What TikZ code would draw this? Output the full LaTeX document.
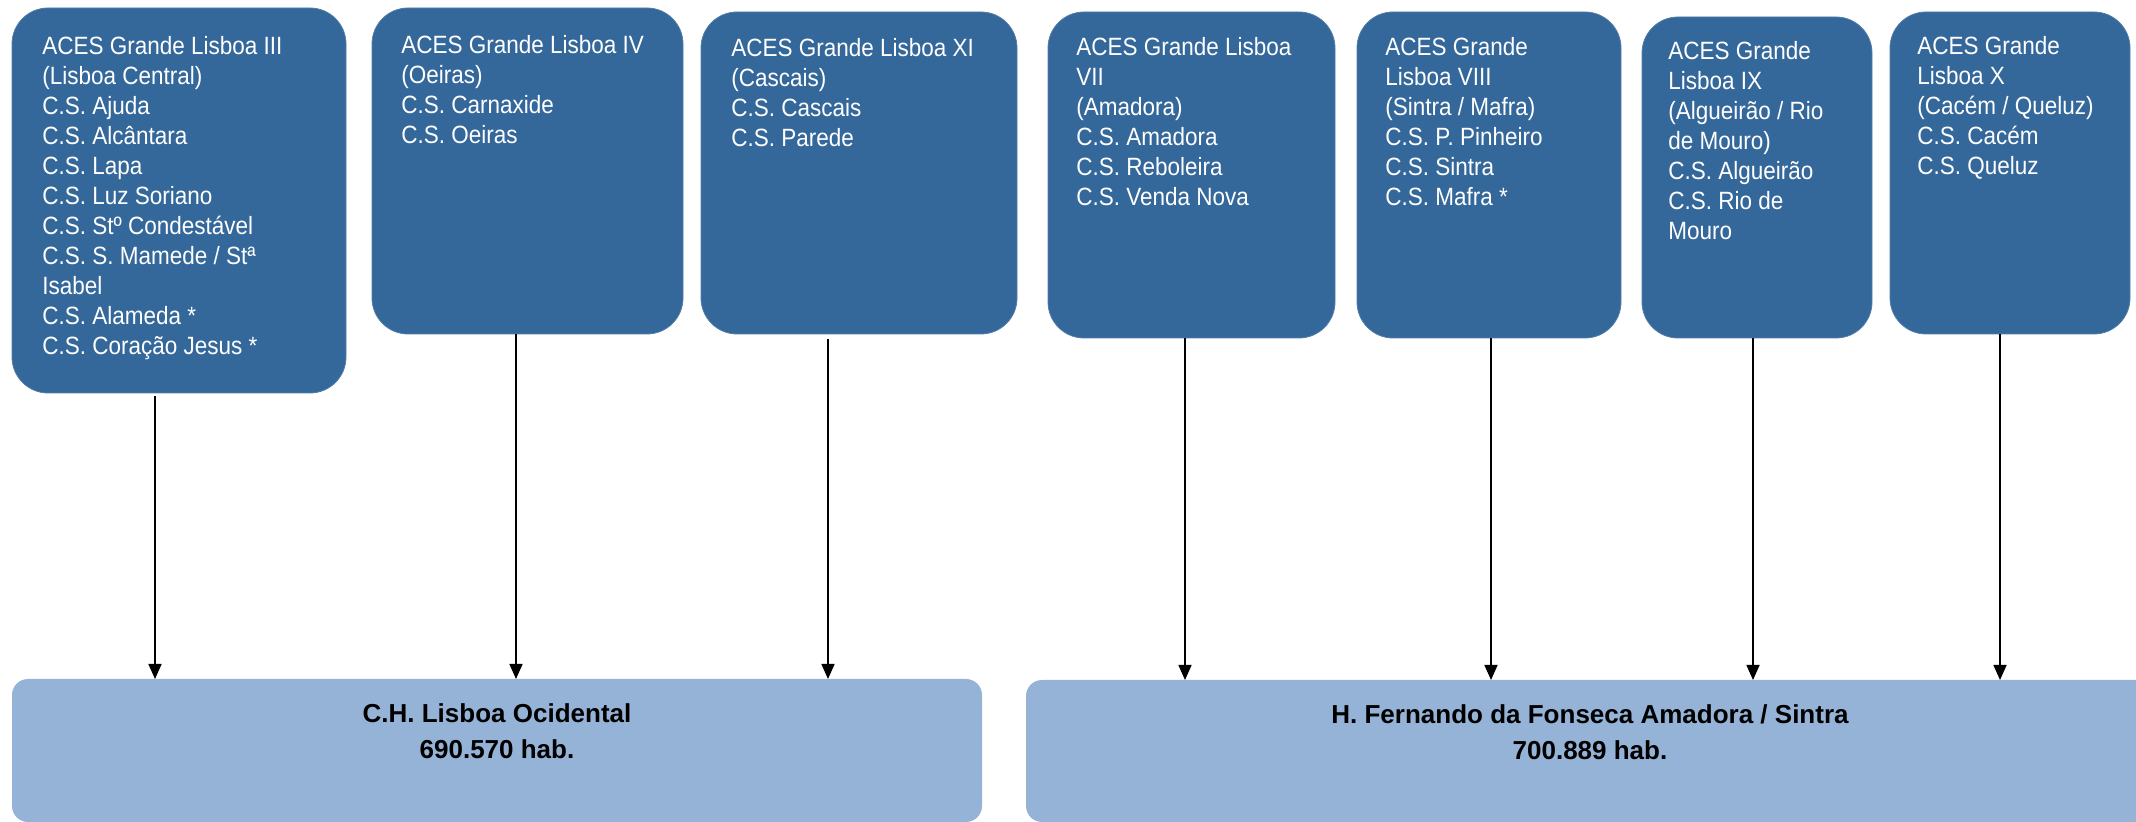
\documentclass[tikz,border=0pt]{standalone}
\usepackage{fontspec}
\setmainfont{Liberation Sans}
\newfontfamily\acesfont{Liberation Sans}[FakeStretch=0.9]
\usepackage{tikz}
\usetikzlibrary{arrows.meta}
\definecolor{acesblue}{HTML}{34679A}
\definecolor{hospblue}{HTML}{95B3D7}
\tikzset{
    aces/.style={fill=acesblue, draw=acesblue!85!white, rounded corners=18pt, anchor=north west, inner sep=0pt, outer sep=0pt},
    acestext/.style={anchor=north west, inner sep=0pt, align=left, text=white, font=\acesfont\fontsize{12.5}{15}\selectfont},
    hosp/.style={fill=hospblue, rounded corners=8pt, anchor=north west, inner sep=0pt, outer sep=0pt},
    hosptext/.style={anchor=north, inner sep=0pt, align=center, font=\bfseries\fontsize{13}{18}\selectfont},
    arr/.style={-{Triangle[length=7.5pt,width=6.5pt]}, line width=0.75pt}
}
\begin{document}
\begin{tikzpicture}[x=0.5pt, y=-0.5pt]
    \clip (0,0) rectangle (2136,822);

    % ACES boxes
    \node[aces, minimum width=167pt, minimum height=192.5pt] (g3) at (12,8) {};
    \node[acestext] (g3t) at ([shift={(30,28)}]g3.north west) {ACES Grande Lisboa III\\(Lisboa Central)\\C.S. Ajuda\\C.S. Alcântara\\C.S. Lapa\\C.S. Luz Soriano\\C.S. Stº Condestável\\C.S. S. Mamede / Stª\\Isabel\\C.S. Alameda *\\C.S. Coração Jesus *};

    \node[aces, minimum width=155.5pt, minimum height=163pt] (g4) at (372,8) {};
    \node[acestext] (g4t) at ([shift={(29,27)}]g4.north west) {ACES Grande Lisboa IV\\(Oeiras)\\C.S. Carnaxide\\C.S. Oeiras};

    \node[aces, minimum width=158pt, minimum height=161pt] (g11) at (701,12) {};
    \node[acestext] (g11t) at ([shift={(30,26)}]g11.north west) {ACES Grande Lisboa XI\\(Cascais)\\C.S. Cascais\\C.S. Parede};

    \node[aces, minimum width=143.5pt, minimum height=163pt] (g7) at (1048,12) {};
    \node[acestext] (g7t) at ([shift={(28,25)}]g7.north west) {ACES Grande Lisboa\\VII\\(Amadora)\\C.S. Amadora\\C.S. Reboleira\\C.S. Venda Nova};

    \node[aces, minimum width=132pt, minimum height=163pt] (g8) at (1357,12) {};
    \node[acestext] (g8t) at ([shift={(28,25)}]g8.north west) {ACES Grande\\Lisboa VIII\\(Sintra / Mafra)\\C.S. P. Pinheiro\\C.S. Sintra\\C.S. Mafra *};

    \node[aces, minimum width=115pt, minimum height=160.5pt] (g9) at (1642,17) {};
    \node[acestext] (g9t) at ([shift={(26,24)}]g9.north west) {ACES Grande\\Lisboa IX\\(Algueirão / Rio\\de Mouro)\\C.S. Algueirão\\C.S. Rio de\\Mouro};

    \node[aces, minimum width=120pt, minimum height=161pt] (g10) at (1890,12) {};
    \node[acestext] (g10t) at ([shift={(27,24)}]g10.north west) {ACES Grande\\Lisboa X\\(Cacém / Queluz)\\C.S. Cacém\\C.S. Queluz};

    % Hospitals
    \node[hosp, minimum width=485pt, minimum height=71.5pt] (b1) at (12,679) {};
    \node[hosptext] (b1t) at ([shift={(0,24)}]b1.north) {C.H. Lisboa Ocidental\\690.570 hab.};

    \node[hosp, minimum width=564pt, minimum height=71pt] (b2) at (1026,680) {};
    \node[hosptext] (b2t) at ([shift={(0,24)}]b2.north) {H. Fernando da Fonseca Amadora / Sintra\\700.889 hab.};

    % Arrows
    \foreach \g/\dx/\dy/\b in {g3/-24/3/b1, g4/-11.5/0/b1, g11/-31/5/b1, g7/-6.5/0/b2, g8/2/0/b2, g9/-4/0/b2, g10/-10/0/b2}
        \draw[arr] ([shift={(\dx,\dy)}]\g.south) -- ([shift={(\dx,0)}]\g.south |- \b.north);
\end{tikzpicture}
\end{document}
